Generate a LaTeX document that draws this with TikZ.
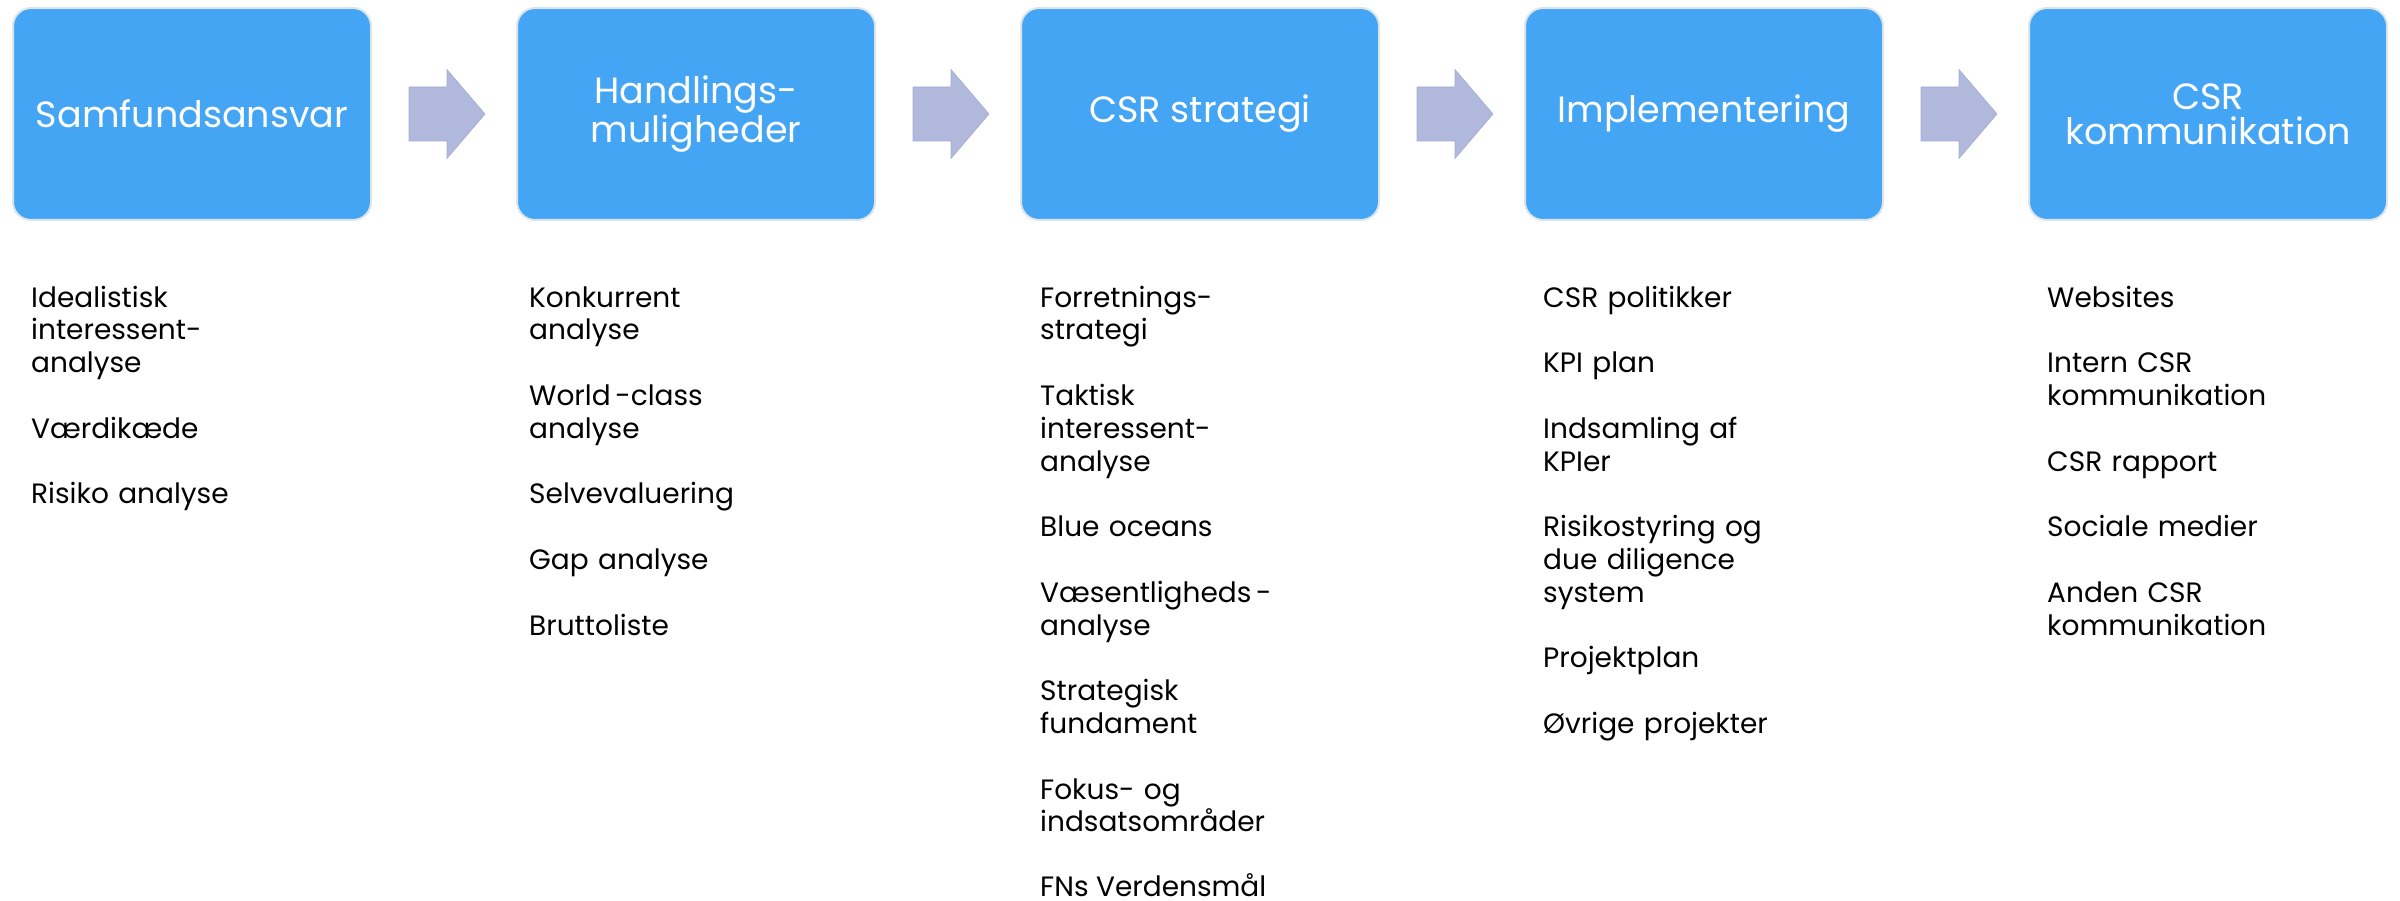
\documentclass[tikz,border=0pt]{standalone}
\usepackage{fontspec}
\setmainfont{Poppins}
\usetikzlibrary{calc}
\definecolor{boxblue}{HTML}{45A5F5}
\definecolor{boxedge}{HTML}{DCE4EC}
\definecolor{arrowfill}{HTML}{B0B8DC}
\definecolor{arrowedge}{HTML}{A4ACD4}
\begin{document}
\begin{tikzpicture}[x=1pt,y=-1pt,
  stagebox/.style={draw=boxedge, line width=2pt, fill=boxblue, rounded corners=18pt,
    minimum width=358pt, minimum height=212pt, inner sep=0pt, text=white, align=center,
    font=\fontsize{36.5}{35}\selectfont},
  itemtext/.style={anchor=base west, inner sep=0pt, text width=420pt, align=left,
    font=\fontsize{28}{32.8}\selectfont, text=black},
  lastitem/.style={anchor=base west, inner sep=0pt, text depth=0pt,
    font=\fontsize{28}{32.8}\selectfont, text=black},
  blockarrow/.style={fill=arrowfill, draw=arrowedge, line width=0.6pt}]
\useasboundingbox (0,0) rectangle (2400,901);

% stage boxes
\node[stagebox] (b1) at (192,114) {Samfundsansvar};
\node[stagebox] (b2) at (696,114) {Handlings-\\muligheder};
\node[stagebox] (b3) at (1200,114) {CSR strategi};
\node[stagebox] (b4) at (1704,114) {Implementering};
\node[stagebox] (b5) at (2208,114) {CSR\\kommunikation};

% block arrows between boxes
\foreach \a/\b in {b1/b2,b2/b3,b3/b4,b4/b5}{
  \coordinate (m-\a) at ($(\a.east)!0.5!(\b.west)$);
  \path[blockarrow] ($(m-\a)+(-35,-27)$) -- ++(38,0) -- ++(0,-17.5) -- ++(38,44.5)
     -- ++(-38,44.5) -- ++(0,-17.5) -- ++(-38,0) -- cycle;
}

% column 1
\node[itemtext] (c1a) at (31,307) {Idealistisk\\interessent-\\analyse};
\node[itemtext] (c1b) at (31,438.2) {Værdikæde};
\node[itemtext] (c1c) at (31,503.8) {Risiko analyse};

% column 2
\node[itemtext] (c2a) at (529,307) {Konkurrent\\analyse};
\node[itemtext] (c2b) at (529,405.4) {World\,-class\\analyse};
\node[itemtext] (c2c) at (529,503.8) {Selvevaluering};
\node[itemtext] (c2d) at (529,569.4) {Gap analyse};
\node[itemtext] (c2e) at (529,635) {Bruttoliste};

% column 3
\node[itemtext] (c3a) at (1040,307) {Forretnings-\\strategi};
\node[itemtext] (c3b) at (1040,405.4) {Taktisk\\interessent-\\analyse};
\node[itemtext] (c3c) at (1040,536.6) {Blue oceans};
\node[itemtext] (c3d) at (1040,602.2) {Væsentligheds\,-\\analyse};
\node[itemtext] (c3e) at (1040,700.6) {Strategisk\\fundament};
\node[itemtext] (c3f) at (1040,799) {Fokus- og\\indsatsområder};
\node[lastitem] (c3g) at (1040,896) {FNs Verdensmål};

% column 4
\node[itemtext] (c4a) at (1543,307) {CSR politikker};
\node[itemtext] (c4b) at (1543,372.6) {KPI plan};
\node[itemtext] (c4c) at (1543,438.2) {Indsamling af\\KPIer};
\node[itemtext] (c4d) at (1543,536.6) {Risikostyring og\\due diligence\\system};
\node[itemtext] (c4e) at (1543,667.8) {Projektplan};
\node[itemtext] (c4f) at (1543,733.4) {Øvrige projekter};

% column 5
\node[itemtext] (c5a) at (2047,307) {Websites};
\node[itemtext] (c5b) at (2047,372.6) {Intern CSR\\kommunikation};
\node[itemtext] (c5c) at (2047,471) {CSR rapport};
\node[itemtext] (c5d) at (2047,536.6) {Sociale medier};
\node[itemtext] (c5e) at (2047,602.2) {Anden CSR\\kommunikation};
\end{tikzpicture}
\end{document}
